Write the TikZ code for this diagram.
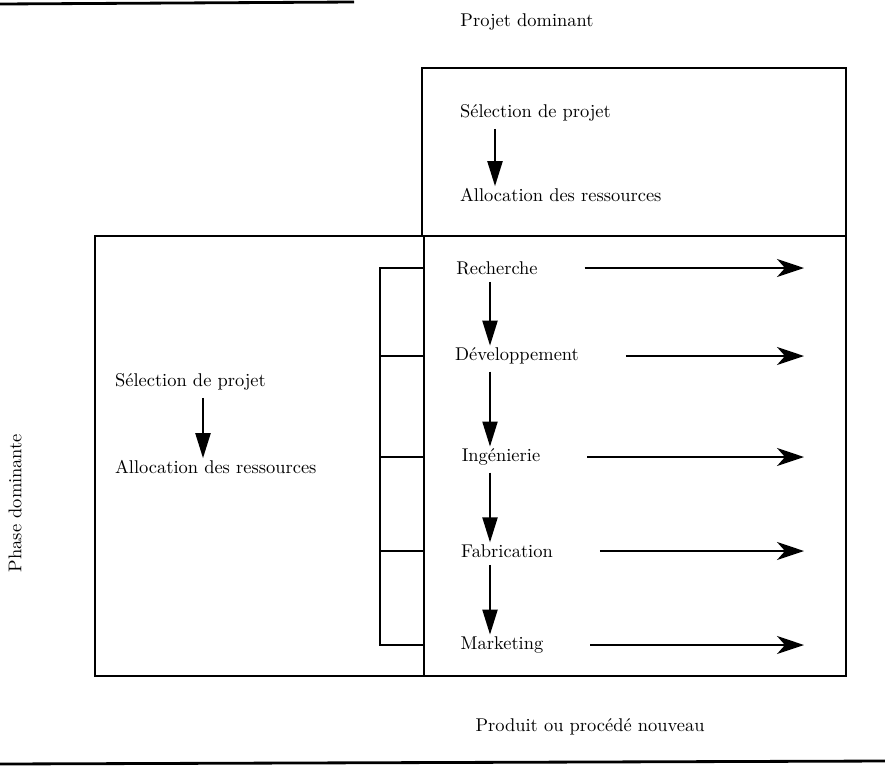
\documentclass[tikz,border=0pt]{standalone}
\usepackage{amsmath}
\usetikzlibrary{arrows.meta,positioning}

\begin{document}
\begin{tikzpicture}[x=0.02cm,y=-0.02cm,
  lbl/.style={font=\fontsize{10.5}{12}\selectfont,inner sep=1pt},
  box/.style={line width=1pt},
  rule/.style={line width=1.6pt},
  down/.style={line width=1.2pt,-{Triangle[length=5mm,width=3mm]},shorten <=3pt},
  flow/.style={line width=1.2pt,-{Stealth[length=5.4mm,width=3.6mm,inset=1.6mm]}}]
\useasboundingbox (0,0) rectangle (885,778);

% rules and outer texts
\draw[rule] (0,4) -- (354,2);
\draw[rule] (0,764) -- (885,761);
\node[lbl] (projdom) at (527,22) {Projet dominant};
\node[lbl] (produit) at (590,727) {Produit ou procédé nouveau};
\node[lbl,rotate=90] (phase) at (15,503) {Phase dominante};

% boxes
\draw[box] (422,68) rectangle (846,236);
\draw[box] (95,236) rectangle (846,676);
\draw[box] (424,236) -- (424,676);

% top box
\node[lbl,anchor=west] (sel1) at (458,113) {Sélection de projet};
\node[lbl,anchor=west] (alloc1) at (458,195) {Allocation des ressources};
\coordinate (topax) at (495,0);
\draw[down] (sel1.south -| topax) -- (alloc1.north -| topax);

% left box
\node[lbl,anchor=west] (sel2) at (113,382) {Sélection de projet};
\node[lbl,anchor=west] (alloc2) at (113,467) {Allocation des ressources};
\coordinate (leftax) at (203,0);
\draw[down] (sel2.south -| leftax) -- (alloc2.north -| leftax);

% phases
\node[lbl] (rech) at (497,268) {Recherche};
\node[lbl] (dev) at (517,356) {Développement};
\node[lbl] (ing) at (501,457) {Ingénierie};
\node[lbl] (fab) at (507,551) {Fabrication};
\node[lbl] (mkt) at (502,645) {Marketing};

\coordinate (phax) at (490,0);
\coordinate (brk) at (380,0);
\coordinate (div) at (424,0);
\coordinate (tip) at (804,0);

\draw[down] (rech.south -| phax) -- (dev.north -| phax);
\draw[down] (dev.south -| phax) -- (ing.north -| phax);
\draw[down] (ing.south -| phax) -- (fab.north -| phax);
\draw[down] (fab.south -| phax) -- (mkt.north -| phax);

% bracket
\draw[box] (rech -| div) -- (rech -| brk) -- (mkt -| brk) -- (mkt -| div);
\foreach \p in {dev,ing,fab}
  \draw[box] (\p -| brk) -- (\p -| div);

% outputs
\foreach \p in {rech,dev,ing,fab,mkt}
  \draw[flow] ([xshift=0.9cm]\p.east) -- (\p -| tip);
\end{tikzpicture}
\end{document}
